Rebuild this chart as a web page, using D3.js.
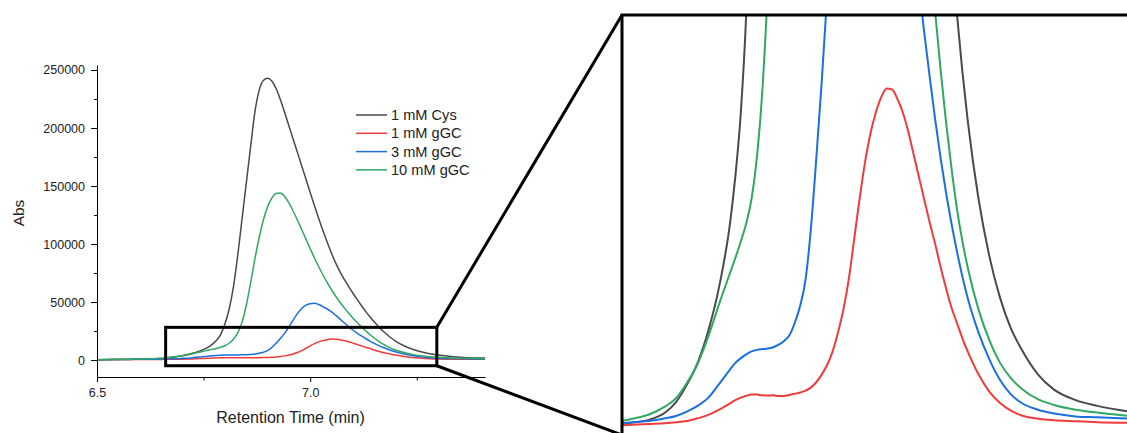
<!DOCTYPE html>
<html>
<head>
<meta charset="utf-8">
<script src="https://cdn.jsdelivr.net/npm/d3@7"></script>
<style>
  body { margin: 0; background: #fff; }
  svg { display: block; font-family: "Liberation Sans", Arial, Helvetica, sans-serif; }
  .axis text { fill: #222; font-size: 12.5px; }
  .axis path, .axis line { stroke: #000; }
</style>
</head>
<body>
<svg id="chart" width="1127" height="433"></svg>
<script>
// retention time (min), shared by all traces
var times = [6.50, 6.54, 6.58, 6.61, 6.64, 6.66, 6.68, 6.70, 6.72, 6.74,
  6.76, 6.77, 6.78, 6.79, 6.80, 6.81, 6.82, 6.83, 6.84, 6.85,
  6.86, 6.87, 6.88, 6.89, 6.90, 6.91, 6.92, 6.93, 6.94, 6.95,
  6.96, 6.97, 6.98, 6.99, 7.00, 7.01, 7.02, 7.03, 7.04, 7.05,
  7.06, 7.07, 7.08, 7.09, 7.10, 7.11, 7.12, 7.13, 7.14, 7.15,
  7.16, 7.17, 7.18, 7.19, 7.20, 7.22, 7.24, 7.26, 7.28, 7.30,
  7.33, 7.36, 7.40, 7.44, 7.50];

var cys1mM = [300, 430, 580, 720, 1100, 1650, 2550, 3700, 5400, 7700,
  11000, 13500, 16800, 22000, 31000, 44000, 63000, 90000, 121000, 152000,
  183000, 213000, 232000, 241000, 242800, 240500, 234000, 224500, 213500, 202000,
  190500, 179000, 167500, 156000, 144500, 133000, 122000, 111500, 101500, 92000,
  83500, 76000, 69500, 63500, 57800, 52300, 47000, 42000, 37300, 33000,
  29000, 25300, 22000, 19000, 16400, 12300, 9300, 7100, 5500, 4400,
  3100, 2300, 1750, 1450, 1150];

var ggc1mM = [250, 380, 460, 500, 540, 590, 660, 800, 980, 1250,
  1580, 1750, 1880, 1980, 2050, 2040, 2000, 1990, 2000, 1970,
  1970, 2020, 2080, 2150, 2250, 2420, 2700, 3100, 3600, 4300,
  5300, 6500, 8100, 10200, 12300, 14200, 15700, 16800, 17600, 18050,
  18000, 17500, 16800, 15800, 14600, 13400, 12200, 11000, 9900, 8700,
  7600, 6600, 5800, 5000, 4300, 3100, 2200, 1600, 1200, 950,
  780, 700, 650, 600, 560];

var ggc3mM = [300, 480, 600, 660, 800, 920, 1150, 1450, 1880, 2600,
  3350, 3700, 3950, 4150, 4300, 4380, 4420, 4450, 4520, 4650,
  4850, 5150, 5800, 6700, 8100, 10800, 14500, 18500, 23000, 28500,
  34500, 40000, 44500, 47300, 48600, 48900, 47900, 46000, 44000, 41500,
  38500, 35300, 32000, 28800, 25900, 23300, 20900, 18600, 16400, 14400,
  12600, 11000, 9550, 8250, 7100, 5300, 3900, 2800, 2050, 1600,
  1250, 1050, 900, 850, 780];

var ggc10mM = [350, 550, 780, 1000, 1420, 1850, 2650, 3650, 5100, 6800,
  8400, 9200, 10050, 11000, 12300, 14500, 18000, 23500, 32500, 47000,
  66000, 86500, 105000, 120500, 132000, 139500, 143500, 144000, 141000, 135500,
  128500, 120700, 112500, 104200, 96000, 88000, 80400, 73300, 66700, 60600,
  55000, 49800, 45000, 40500, 36300, 32400, 28800, 25300, 22000, 19000,
  16300, 13900, 11800, 10100, 8700, 6500, 4900, 3700, 2900, 2350,
  1800, 1500, 1250, 1100, 920];

var seriesNames = ["1 mM Cys", "1 mM gGC", "3 mM gGC", "10 mM gGC"];
var seriesColors = ["#4a4a4a", "#ef3b3b", "#1b6fe0", "#2fa862"];

var xTicks = [6.5, 7.0];
var xMinorTicks = [6.75, 7.25];
var yTicks = [0, 50000, 100000, 150000, 200000, 250000];
var yMinorTicks = [25000, 75000, 125000, 175000, 225000];

// region of the main plot that is blown up on the right
var zoomX = [6.661, 7.297];
var zoomY = [-4900, 28200];
// domains of the blown-up view
var insetX = [6.56, 7.495];
var insetY = [0, 21900];

var series = [cys1mM, ggc1mM, ggc3mM, ggc10mM].map(function(vals, i) {
  return {
    name: seriesNames[i],
    color: seriesColors[i],
    points: times.map(function(t, j) { return { t: t, v: vals[j] }; })
  };
});

var svg = d3.select("#chart");

// ---------- main chart ----------
var x = d3.scaleLinear().domain([6.5, 7.41]).range([97, 485]);
var y = d3.scaleLinear().domain([-14600, 254300]).range([377, 65]);

svg.append("clipPath").attr("id", "clipMain")
  .append("rect").attr("x", 97).attr("y", 0).attr("width", 388).attr("height", 377);

var line = d3.line()
  .x(function(d) { return x(d.t); })
  .y(function(d) { return y(d.v); })
  .curve(d3.curveMonotoneX);

svg.append("g").attr("clip-path", "url(#clipMain)")
  .selectAll("path")
  .data(series)
  .enter().append("path")
  .attr("d", function(d) { return line(d.points); })
  .attr("fill", "none")
  .attr("stroke", function(d) { return d.color; })
  .attr("stroke-width", 1.5);

// axes
svg.append("g").attr("class", "axis")
  .attr("transform", "translate(97,0)")
  .call(d3.axisLeft(y).tickValues(yTicks).tickSize(6).tickSizeOuter(0).tickPadding(6)
    .tickFormat(d3.format("d")));
svg.append("g").attr("class", "axis")
  .attr("transform", "translate(97,0)")
  .call(d3.axisLeft(y).tickValues(yMinorTicks).tickSize(3).tickFormat(""))
  .select(".domain").remove();

svg.append("g").attr("class", "axis")
  .attr("transform", "translate(0,377)")
  .call(d3.axisBottom(x).tickValues(xTicks).tickSize(5).tickSizeOuter(0).tickPadding(6.5)
    .tickFormat(d3.format(".1f")));
svg.append("g").attr("class", "axis")
  .attr("transform", "translate(0,377)")
  .call(d3.axisBottom(x).tickValues(xMinorTicks).tickSize(3.5).tickFormat(""))
  .select(".domain").remove();

svg.append("text")
  .attr("x", 290.5).attr("y", 423)
  .attr("text-anchor", "middle")
  .attr("font-size", 16).attr("fill", "#222")
  .text("Retention Time (min)");

svg.append("text")
  .attr("transform", "translate(24,213) rotate(-90)")
  .attr("text-anchor", "middle")
  .attr("font-size", 15.5).attr("fill", "#222")
  .text("Abs");

// legend
var legend = svg.append("g").selectAll("g")
  .data(series)
  .enter().append("g")
  .attr("transform", function(d, i) { return "translate(356," + (115 + i * 18.3) + ")"; });
legend.append("line")
  .attr("x1", 0).attr("x2", 31).attr("y1", 0).attr("y2", 0)
  .attr("stroke", function(d) { return d.color; })
  .attr("stroke-width", 1.5);
legend.append("text")
  .attr("x", 35).attr("y", 5)
  .attr("font-size", 14.6).attr("fill", "#222")
  .text(function(d) { return d.name; });

// ---------- zoom box and connectors ----------
var bx0 = x(zoomX[0]), bx1 = x(zoomX[1]);
var by0 = y(zoomY[1]), by1 = y(zoomY[0]);

var ix = d3.scaleLinear().domain(insetX).range([622, 1127]);
var iy = d3.scaleLinear().domain(insetY).range([433.6, 15]);

svg.append("rect")
  .attr("x", bx0).attr("y", by0)
  .attr("width", bx1 - bx0).attr("height", by1 - by0)
  .attr("fill", "none").attr("stroke", "#000").attr("stroke-width", 3);

svg.append("line")
  .attr("x1", bx1).attr("y1", by0).attr("x2", 622).attr("y2", 15)
  .attr("stroke", "#000").attr("stroke-width", 3);
svg.append("line")
  .attr("x1", bx1).attr("y1", by1).attr("x2", 622).attr("y2", 435)
  .attr("stroke", "#000").attr("stroke-width", 3);

// ---------- inset ----------
svg.append("clipPath").attr("id", "clipInset")
  .append("rect").attr("x", 622).attr("y", 15).attr("width", 520).attr("height", 430);

var insetLine = d3.line()
  .x(function(d) { return ix(d.t); })
  .y(function(d) { return iy(d.v); })
  .curve(d3.curveMonotoneX);

svg.append("g").attr("clip-path", "url(#clipInset)")
  .selectAll("path")
  .data(series)
  .enter().append("path")
  .attr("d", function(d) { return insetLine(d.points); })
  .attr("fill", "none")
  .attr("stroke", function(d) { return d.color; })
  .attr("stroke-width", 2);

svg.append("path")
  .attr("d", "M622,440V15H1135")
  .attr("fill", "none").attr("stroke", "#000").attr("stroke-width", 3);
</script>
</body>
</html>
